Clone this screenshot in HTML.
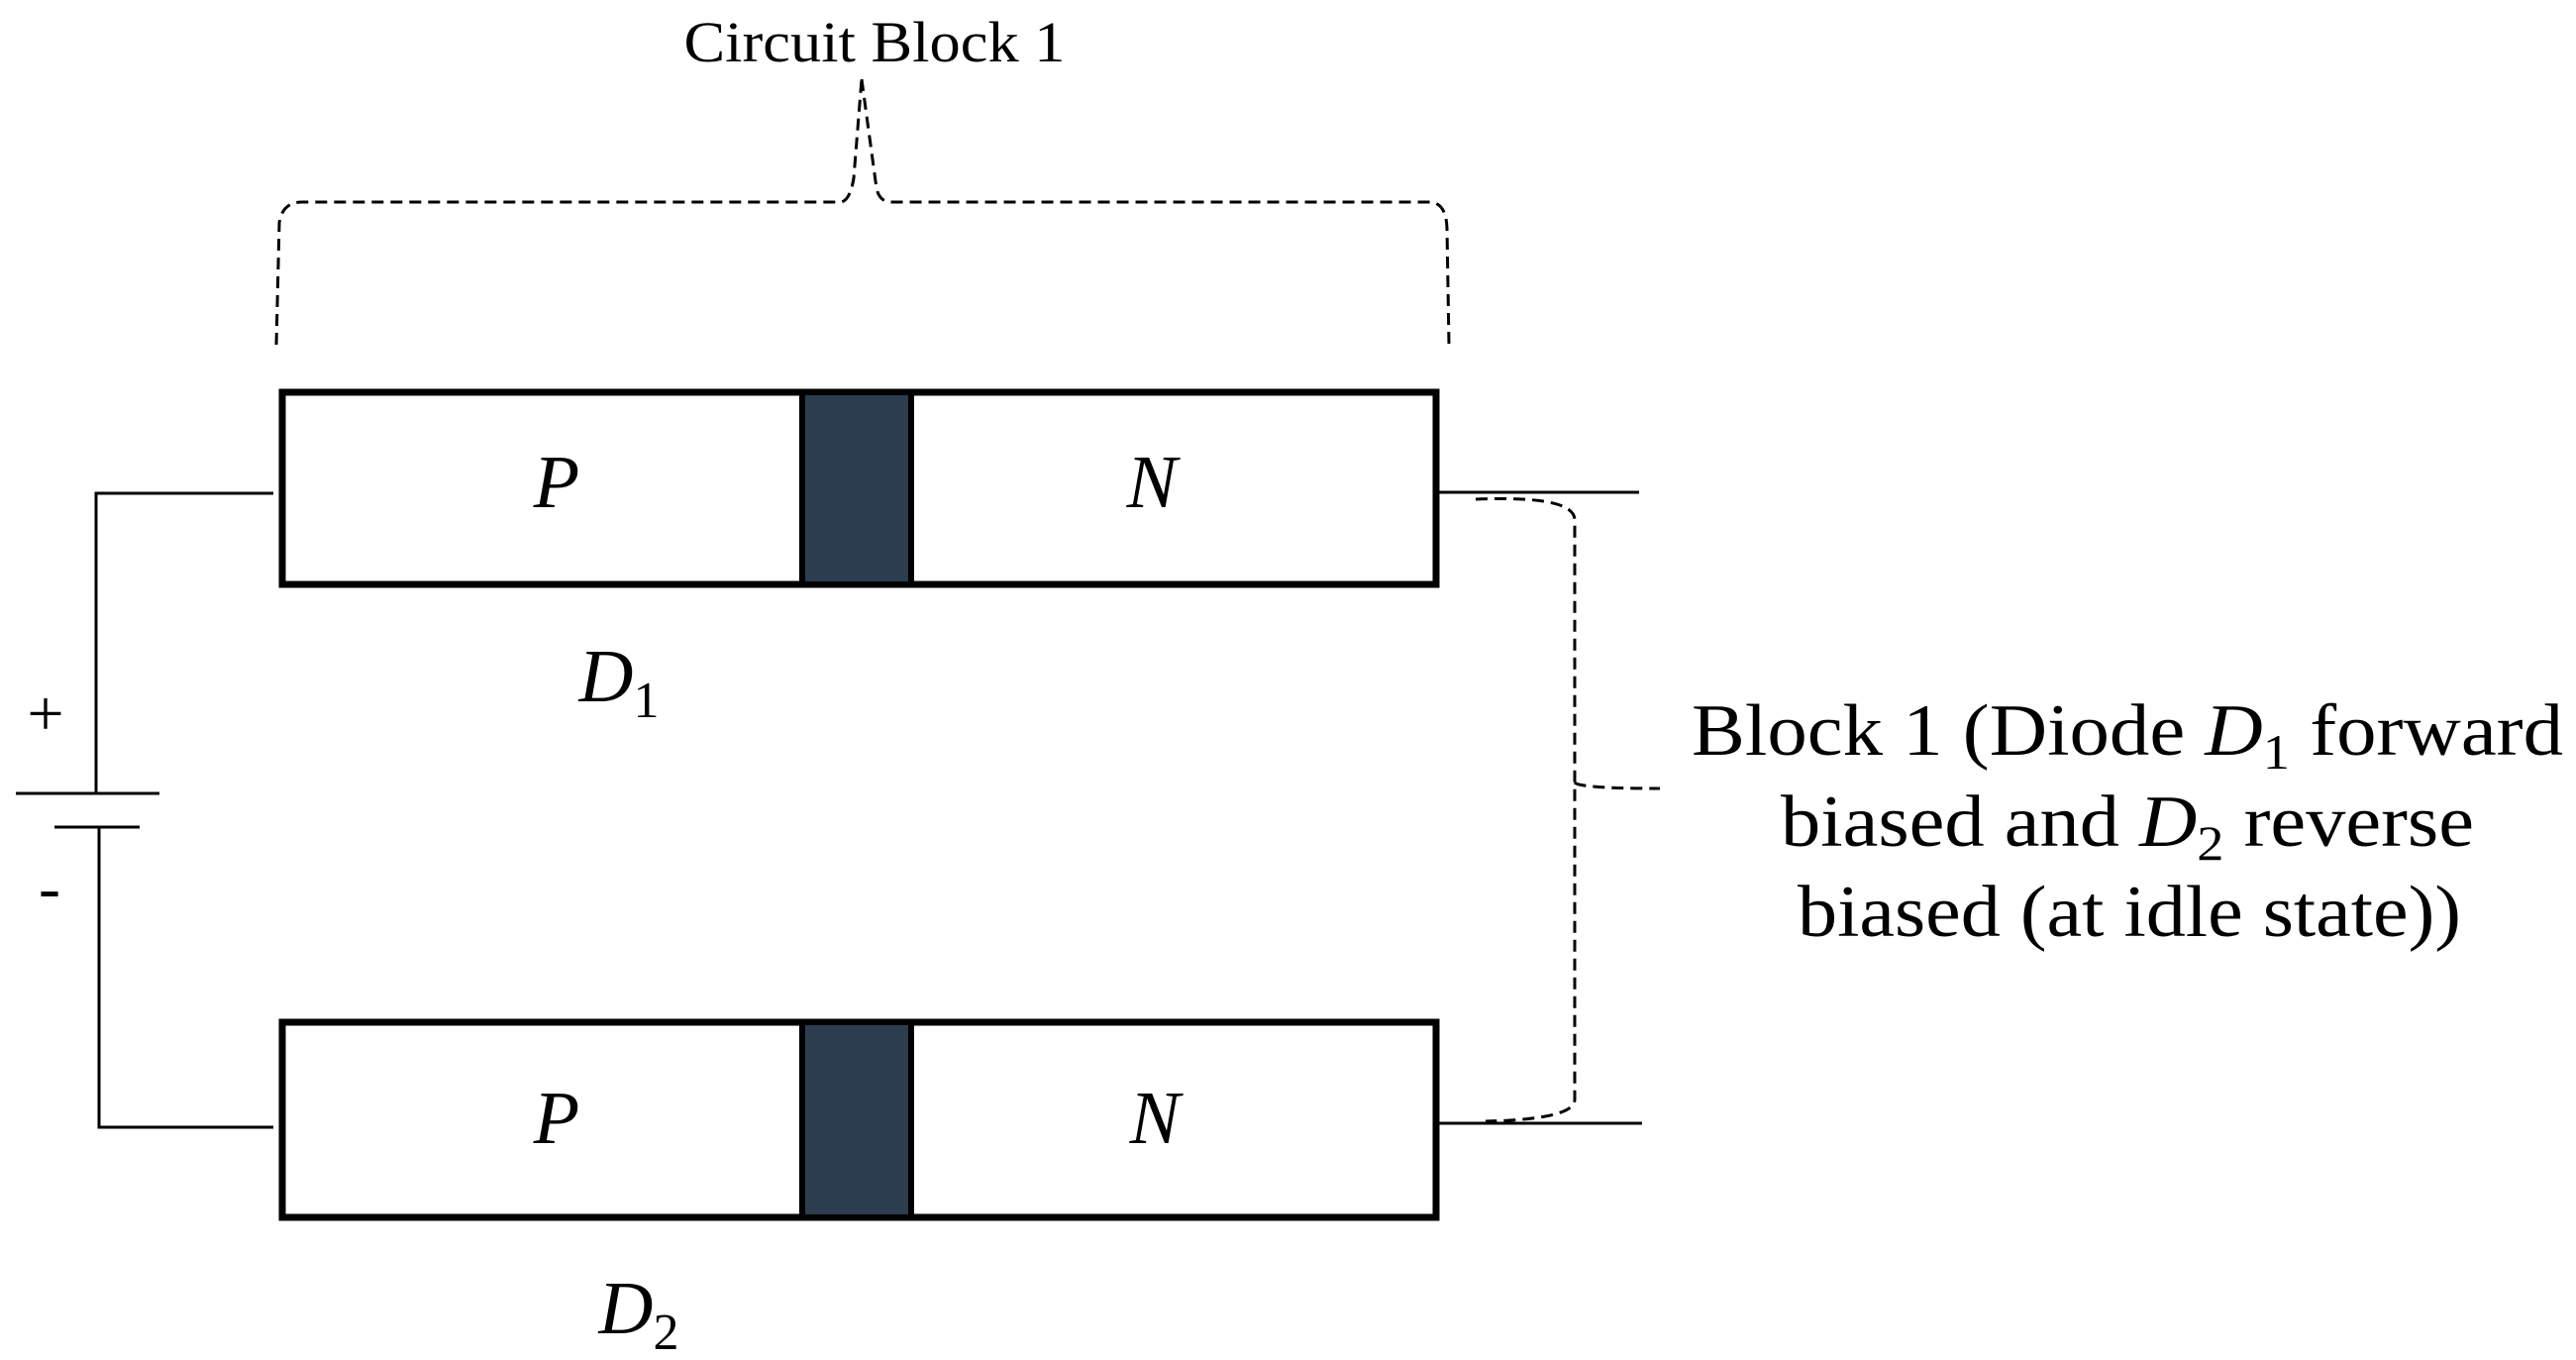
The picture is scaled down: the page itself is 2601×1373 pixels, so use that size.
<!DOCTYPE html>
<html><head><style>html,body{margin:0;padding:0;background:#fff}svg{display:block}</style></head>
<body>
<svg width="2601" height="1373" viewBox="0 0 2601 1373" xmlns="http://www.w3.org/2000/svg" font-family="Liberation Serif, serif">
<rect width="2601" height="1373" fill="#fff"/>
<!-- D1 -->
<rect x="285" y="396" width="1165" height="194" fill="#fff" stroke="#000" stroke-width="7"/>
<rect x="810" y="396" width="110" height="194" fill="#2b3d4f" stroke="#000" stroke-width="6"/>
<!-- D2 -->
<rect x="285" y="1032" width="1165" height="197" fill="#fff" stroke="#000" stroke-width="7"/>
<rect x="810" y="1032" width="110" height="197" fill="#2b3d4f" stroke="#000" stroke-width="6"/>
<g font-style="italic" font-size="76" text-anchor="middle">
<text x="562" y="512">P</text>
<text x="1163" y="512">N</text>
<text x="562" y="1154">P</text>
<text x="1166" y="1154">N</text>
<text x="625" y="708">D<tspan font-style="normal" font-size="52" dy="16">1</tspan></text>
<text x="645" y="1346">D<tspan font-style="normal" font-size="52" dy="16">2</tspan></text>
</g>
<!-- left circuit -->
<g stroke="#000" stroke-width="3" fill="none">
<polyline points="276,498 97,498 97,801"/>
<line x1="16" y1="801" x2="161" y2="801"/>
<line x1="55" y1="835" x2="141" y2="835"/>
<polyline points="100,835 100,1138 276,1138"/>
<line x1="1452" y1="497" x2="1655" y2="497"/>
<line x1="1452" y1="1134" x2="1658" y2="1134"/>
</g>
<text x="46" y="742" font-size="66" text-anchor="middle">+</text>
<text x="50" y="918" font-size="66" text-anchor="middle">-</text>
<!-- dashed brackets -->
<g stroke="#000" stroke-width="3" fill="none" stroke-dasharray="12,7">
<path d="M1490,504 Q1590,500 1590,525 L1590,1110 Q1590,1130 1500,1132"/>
<path d="M1590,790 Q1595,796 1676,796"/>
<path d="M279,348 L282,225 Q285,204 305,204 L848,204 Q858,204 862,180 L870,80"/>
<path d="M870,80 L885,190 Q888,204 900,204 L1443,204 Q1460,204 1461,230 L1463,348"/>
</g>
<text x="883" y="62" font-size="58" text-anchor="middle" textLength="385" lengthAdjust="spacingAndGlyphs">Circuit Block 1</text>
<g font-size="74" text-anchor="middle" lengthAdjust="spacingAndGlyphs">
<text x="2148" y="762" textLength="880" lengthAdjust="spacingAndGlyphs">Block 1 (Diode <tspan font-style="italic">D</tspan><tspan font-size="50" dy="14">1</tspan><tspan dy="-14"> forward</tspan></text>
<text x="2148" y="854" textLength="700" lengthAdjust="spacingAndGlyphs">biased and <tspan font-style="italic">D</tspan><tspan font-size="50" dy="14">2</tspan><tspan dy="-14"> reverse</tspan></text>
<text x="2150" y="945" textLength="670" lengthAdjust="spacingAndGlyphs">biased (at idle state))</text>
</g>
</svg>
</body></html>
